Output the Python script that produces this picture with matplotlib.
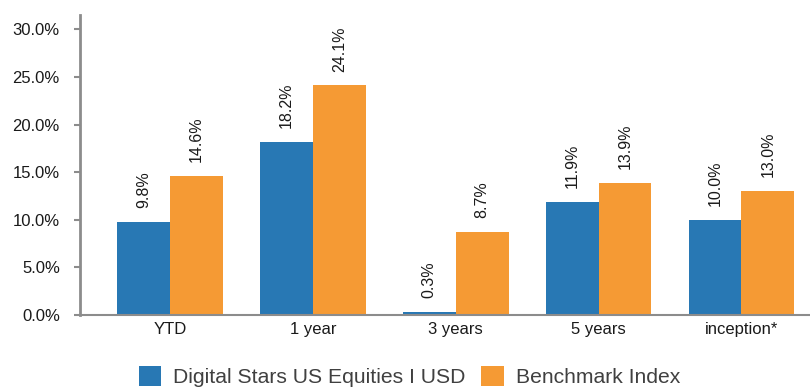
import matplotlib
matplotlib.use("Agg")
import matplotlib.pyplot as plt
import numpy as np

categories = ["YTD", "1 year", "3 years", "5 years", "inception*"]
fund = [9.8, 18.2, 0.3, 11.9, 10.0]
benchmark = [14.6, 24.1, 8.7, 13.9, 13.0]
series_names = ["Digital Stars US Equities I USD", "Benchmark Index"]
yticks = [0, 5, 10, 15, 20, 25, 30]

blue = "#2878b4"
orange = "#f59a34"
grey = "#8c8c8c"

plt.rcParams["font.family"] = ["Liberation Sans", "DejaVu Sans"]

fig = plt.figure(figsize=(8.1, 3.88), dpi=100)
ax = fig.add_axes([80 / 810, (388 - 315) / 388, 730 / 810, 300 / 388])

x = np.arange(len(categories))
w = 0.37
b1 = ax.bar(x - w / 2, fund, w, color=blue, label=series_names[0])
b2 = ax.bar(x + w / 2, benchmark, w, color=orange, label=series_names[1])

for bars, vals in ((b1, fund), (b2, benchmark)):
    for rect, v in zip(bars, vals):
        ax.text(rect.get_x() + rect.get_width() / 2, v + 1.45, f"{v:.1f}%",
                rotation=90, ha="center", va="bottom", fontsize=11.5, color="#1a1a1a")

ax.set_xlim(-0.63, 4.48)
ax.set_ylim(0, 31.5)
ax.set_xticks(x)
ax.set_xticklabels(categories, fontsize=12, color="#1a1a1a")
ax.set_yticks(yticks)
ax.set_yticklabels([f"{t:.1f}%" for t in yticks], fontsize=12, color="#1a1a1a")
ax.tick_params(axis="x", length=0, pad=5)
ax.tick_params(axis="y", length=4.5, width=1.5, color=grey, pad=10)

for s in ("top", "right"):
    ax.spines[s].set_visible(False)
ax.spines["left"].set_color(grey)
ax.spines["left"].set_linewidth(2)
ax.spines["bottom"].set_color(grey)
ax.spines["bottom"].set_linewidth(1.5)

leg = fig.legend(handles=[b1, b2], loc="lower center", bbox_to_anchor=(0.5056, -0.047),
                 ncol=2, frameon=False, fontsize=15.2, handlelength=1.05, handleheight=1.05,
                 handletextpad=0.57, columnspacing=0.75)
for t in leg.get_texts():
    t.set_color("#404040")

fig.savefig("out.png", dpi=100)
